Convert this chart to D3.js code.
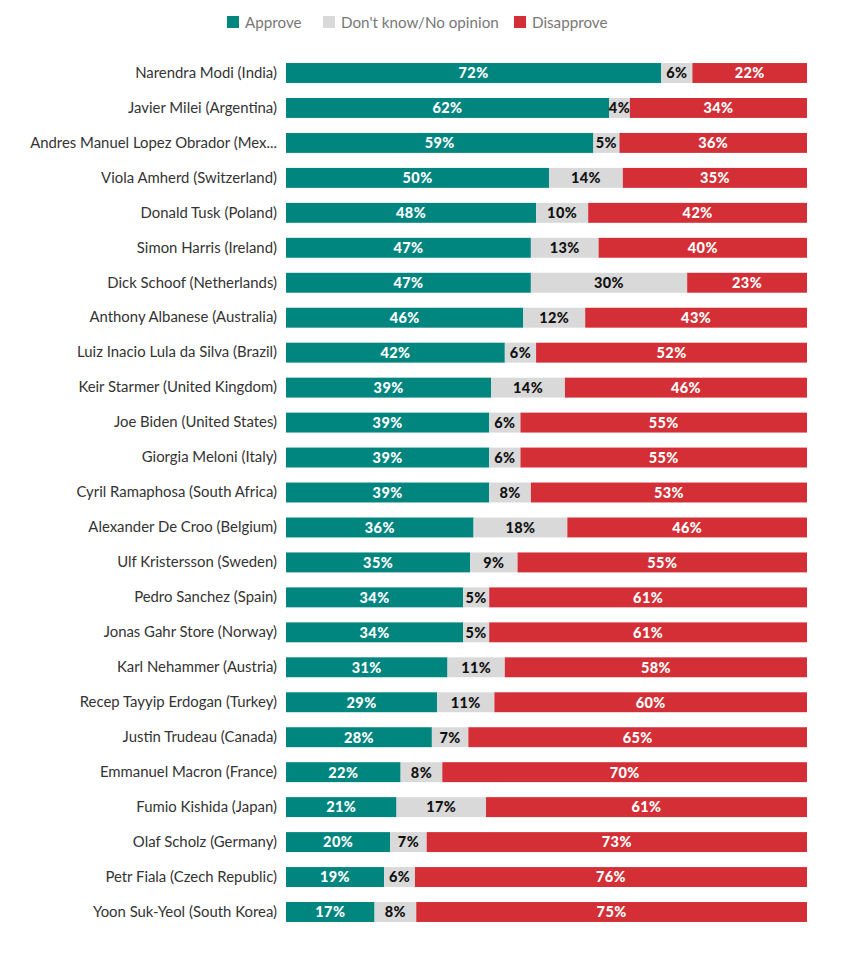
<!DOCTYPE html>
<html><head><meta charset="utf-8">
<script src="https://cdn.jsdelivr.net/npm/d3@7"></script>
<style>body{margin:0;background:#fff}svg{display:block}</style>
</head><body>
<svg id="c" width="850" height="956"></svg>
<script>
const leaders = ["Narendra Modi (India)","Javier Milei (Argentina)","Andres Manuel Lopez Obrador (Mex...","Viola Amherd (Switzerland)","Donald Tusk (Poland)","Simon Harris (Ireland)","Dick Schoof (Netherlands)","Anthony Albanese (Australia)","Luiz Inacio Lula da Silva (Brazil)","Keir Starmer (United Kingdom)","Joe Biden (United States)","Giorgia Meloni (Italy)","Cyril Ramaphosa (South Africa)","Alexander De Croo (Belgium)","Ulf Kristersson (Sweden)","Pedro Sanchez (Spain)","Jonas Gahr Store (Norway)","Karl Nehammer (Austria)","Recep Tayyip Erdogan (Turkey)","Justin Trudeau (Canada)","Emmanuel Macron (France)","Fumio Kishida (Japan)","Olaf Scholz (Germany)","Petr Fiala (Czech Republic)","Yoon Suk-Yeol (South Korea)"];
const approve =    [72,62,59,50,48,47,47,46,42,39,39,39,39,36,35,34,34,31,29,28,22,21,20,19,17];
const dontKnow =   [6,4,5,14,10,13,30,12,6,14,6,6,8,18,9,5,5,11,11,7,8,17,7,6,8];
const disapprove = [22,34,36,35,42,40,23,43,52,46,55,55,53,46,55,61,61,58,60,65,70,61,73,76,75];
const seriesNames = ["Approve","Don't know/No opinion","Disapprove"];
const colors = ["#00857f","#d9d9d9","#d42f36"];
const textColors = ["#ffffff","#111111","#ffffff"];

const keys = ["a","d","x"];
const rows = leaders.map((n,i)=>({name:n,a:approve[i],d:dontKnow[i],x:disapprove[i]}));
const stack = d3.stack().keys(keys).offset(d3.stackOffsetExpand)(rows);

const svg = d3.select("#c");
const m = {left:286, right:43, top:55};
const W = 850;
const x = d3.scaleLinear().domain([0,1]).range([m.left, W-m.right]);
const y = d3.scaleBand().domain(leaders).range([m.top, m.top+35*leaders.length]).paddingInner(0.43).paddingOuter(0.23);

// legend
const legX = [227,323,514];
const leg = svg.append("g");
seriesNames.forEach((s,i)=>{
  leg.append("rect").attr("x",legX[i]).attr("y",16).attr("width",12).attr("height",12).attr("fill",colors[i]);
  leg.append("text").attr("x",legX[i]+18).attr("y",27.5).text(s)
    .attr("font-family","Lato, 'Open Sans', sans-serif").attr("font-size",15.2).attr("fill","#777");
});

// y labels
const yAxis = d3.axisLeft(y).tickSize(0).tickPadding(9);
const ga = svg.append("g").attr("transform",`translate(${m.left},0)`).call(yAxis);
ga.select(".domain").remove();
ga.selectAll("text").attr("font-family","Lato, 'Open Sans', sans-serif").attr("font-size",14.9).attr("fill","#333");

stack.forEach((layer,k)=>{
  const g = svg.append("g");
  g.selectAll("rect").data(layer).join("rect")
    .attr("x",d=>x(d[0])).attr("y",d=>y(d.data.name))
    .attr("width",d=>x(d[1])-x(d[0])).attr("height",y.bandwidth())
    .attr("fill",colors[k]);
  g.selectAll("text").data(layer).join("text")
    .attr("x",d=>(x(d[0])+x(d[1]))/2).attr("y",d=>y(d.data.name)+y.bandwidth()/2)
    .attr("dy","0.37em").attr("text-anchor","middle")
    .attr("font-family","Lato, sans-serif").attr("font-weight",900).attr("font-size",14.5)
    .attr("letter-spacing",0.4)
    .attr("fill",textColors[k])
    .text(d=>d.data[keys[k]]+"%");
});
</script>
</body></html>
